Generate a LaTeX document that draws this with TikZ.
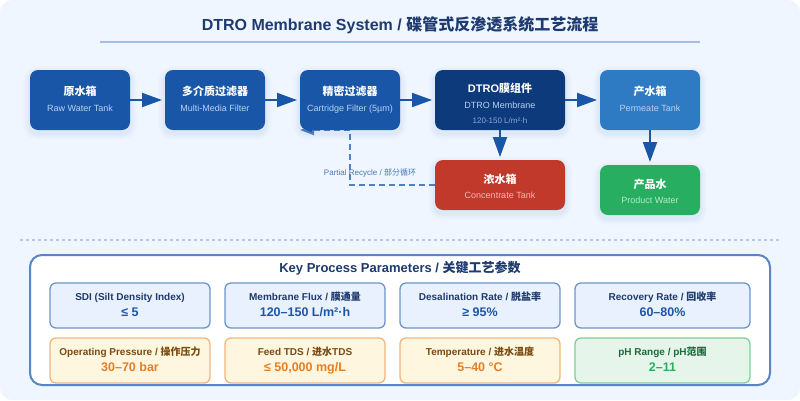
\documentclass[tikz,border=0pt]{standalone}
\usepackage{fontspec}
\setmainfont{Liberation Sans}
\newfontfamily\cjk{Noto Sans CJK SC}
\newcommand{\zh}[1]{{\cjk #1}}
\usetikzlibrary{arrows.meta, positioning, backgrounds}

\definecolor{pagebg}{HTML}{EFF6FF}
\definecolor{titleblue}{HTML}{1E3A6E}
\definecolor{ruleblue}{HTML}{A3BDE3}
\definecolor{tankblue}{HTML}{1A56A8}
\definecolor{deepblue}{HTML}{0D3A7A}
\definecolor{midblue}{HTML}{2E7BC4}
\definecolor{tankred}{HTML}{C0392B}
\definecolor{tankgreen}{HTML}{27AE60}
\definecolor{panelblue}{HTML}{5A85C5}
\definecolor{bluefill}{HTML}{E8F1FD}
\definecolor{bluedraw}{HTML}{6C95D0}
\definecolor{orangefill}{HTML}{FFF6DF}
\definecolor{orangedraw}{HTML}{F3B57A}
\definecolor{orangetext}{HTML}{7A4A10}
\definecolor{orangevalue}{HTML}{E67E22}
\definecolor{greenfill}{HTML}{E6F5EA}
\definecolor{greendraw}{HTML}{7FCF9C}
\definecolor{greentext}{HTML}{1E6B3C}
\definecolor{subblue}{HTML}{B8D1F0}
\definecolor{subdim}{HTML}{86A9DE}
\definecolor{subred}{HTML}{F2B8B0}
\definecolor{subgreen}{HTML}{B5EBC9}

% #1 height of first line, #2 depth of last line, #3 colour of second line
\newcommand{\tanktext}[5]{\rule{0pt}{#1pt}\textbf{#4}\\\fontsize{9}{9}\selectfont\color{#3}#5\rule[-#2pt]{0pt}{#2pt}}
% #1 colour of label, #2 label, #3 colour of value, #4 value
\newcommand{\paramtext}[4]{\rule{0pt}{10pt}\textcolor{#1}{#2}\\\fontsize{12.5}{12.5}\selectfont\textcolor{#3}{#4}\rule[-4.5pt]{0pt}{4.5pt}}

\begin{document}
\begin{tikzpicture}[
    x=1pt, y=-1pt,
    node distance=35pt,
    softglow/.style={
        preaction={draw=tankblue, draw opacity=.02, line width=13pt, transform canvas={yshift=-3pt}},
        preaction={draw=tankblue, draw opacity=.025, line width=9pt, transform canvas={yshift=-3pt}},
        preaction={draw=tankblue, draw opacity=.03, line width=5pt, transform canvas={yshift=-3pt}}},
    tank/.style={rectangle, softglow, rounded corners=8pt, minimum width=100pt, minimum height=60pt, inner sep=0pt, outer sep=0pt, align=center, text=white, font=\fontsize{11}{16pt}\selectfont},
    shorttank/.style={tank, minimum height=50pt, font=\fontsize{11}{15pt}\selectfont},
    flow/.style={-{Triangle[length=20pt, width=14pt]}, line width=2pt, draw=tankblue, shorten >=3pt},
    recycle/.style={-{Triangle[length=14pt, width=10pt, fill=tankblue]}, line width=2pt, draw=tankblue!75, dash pattern=on 6pt off 4pt},
    panel/.style={rectangle, draw=panelblue, fill=white, line width=2pt, rounded corners=12pt, minimum width=740pt, minimum height=130pt, outer sep=0pt},
    param/.style={rectangle, rounded corners=6pt, line width=1.3pt, minimum width=160pt, minimum height=45pt, inner sep=0pt, outer sep=0pt, align=center, font=\bfseries\fontsize{10}{16.5pt}\selectfont},
    blueparam/.style={param, draw=bluedraw, fill=bluefill},
    orangeparam/.style={param, draw=orangedraw, fill=orangefill},
    greenparam/.style={param, draw=greendraw, fill=greenfill}
]
\useasboundingbox (0,0) rectangle (800,400);

% flow boxes
\node[tank, fill=tankblue] at (80,100) (rawtank) {\tanktext{12}{6}{subblue}{\zh{原水箱}}{Raw Water Tank}};
\node[tank, fill=tankblue, right=of rawtank] (mediafilter) {\tanktext{12}{6}{subblue}{\zh{多介质过滤器}}{Multi-Media Filter}};
\node[tank, fill=tankblue, right=of mediafilter] (cartridge) {\tanktext{12}{6}{subblue}{\zh{精密过滤器}}{Cartridge Filter (5µm)}};
\node[tank, fill=deepblue, minimum width=130pt, right=of cartridge] (membrane) {\rule{0pt}{20pt}\textbf{DTRO\zh{膜组件}}\\\fontsize{9}{9}\selectfont\textcolor{subblue}{DTRO Membrane}\\[-1pt]\fontsize{8}{8}\selectfont\textcolor{subdim}{120-150 L/m²·h}\rule[-4pt]{0pt}{4pt}};
\node[tank, fill=midblue, right=of membrane] (permeate) {\tanktext{12}{6}{subblue}{\zh{产水箱}}{Permeate Tank}};
\node[shorttank, fill=tankred, minimum width=130pt, below=30pt of membrane] (concentrate) {\tanktext{14}{3}{subred}{\zh{浓水箱}}{Concentrate Tank}};
\node[shorttank, fill=tankgreen, below=of permeate] (product) {\tanktext{14}{3}{subgreen}{\zh{产品水}}{Product Water}};

% flow arrows
\draw[flow] (rawtank) -- (mediafilter);
\draw[flow] (mediafilter) -- (cartridge);
\draw[flow] (cartridge) -- (membrane);
\draw[flow] (membrane) -- (permeate);
\draw[flow] (membrane) -- (concentrate);
\draw[flow] (permeate) -- (product);

% title
\node[font=\fontsize{16}{16}\selectfont\bfseries, text=titleblue] at (400,25) (title) {DTRO Membrane System / \zh{碟管式反渗透系统工艺流程}};

\begin{scope}[on background layer]
\fill[pagebg, rounded corners=12pt] (0,0) rectangle (800,400);
\draw[ruleblue, line width=2pt] (100,42) -- (700,42);
\draw[ruleblue!80, line width=1.5pt, dash pattern=on 3pt off 3pt] (20,240) -- (780,240);
% recycle goes under the filter box
\draw[recycle] (concentrate.west) -| (cartridge.south) -- (cartridge.south west);
\end{scope}
\node[font=\fontsize{8}{8}\selectfont, text=tankblue!80] at (370,173) (recyclelabel) {Partial Recycle / \zh{部分循环}};

% parameter panel
\node[panel] at (400,320) (parampanel) {};
\node[font=\fontsize{13}{13}\selectfont\bfseries, text=titleblue] at (400,268) (paramtitle) {Key Process Parameters / \zh{关键工艺参数}};

\node[blueparam] at (130,305.5) (sdi) {\paramtext{titleblue}{SDI (Silt Density Index)}{tankblue}{≤ 5}};
\node[blueparam, right=15pt of sdi] (flux) {\paramtext{titleblue}{Membrane Flux / \zh{膜通量}}{tankblue}{120–150 L/m²·h}};
\node[blueparam, right=15pt of flux] (desal) {\paramtext{titleblue}{Desalination Rate / \zh{脱盐率}}{tankblue}{≥ 95\%}};
\node[blueparam, minimum width=175pt, right=15pt of desal] (recovery) {\paramtext{titleblue}{Recovery Rate / \zh{回收率}}{tankblue}{60–80\%}};
\node[orangeparam, below=10pt of sdi] (pressure) {\paramtext{orangetext}{Operating Pressure / \zh{操作压力}}{orangevalue}{30–70 bar}};
\node[orangeparam, right=15pt of pressure] (feedtds) {\paramtext{orangetext}{Feed TDS / \zh{进水}TDS}{orangevalue}{≤ 50,000 mg/L}};
\node[orangeparam, right=15pt of feedtds] (temperature) {\paramtext{orangetext}{Temperature / \zh{进水温度}}{orangevalue}{5–40 °C}};
\node[greenparam, minimum width=175pt, right=15pt of temperature] (phrange) {\paramtext{greentext}{pH Range / pH\zh{范围}}{tankgreen}{2–11}};
\end{tikzpicture}
\end{document}
